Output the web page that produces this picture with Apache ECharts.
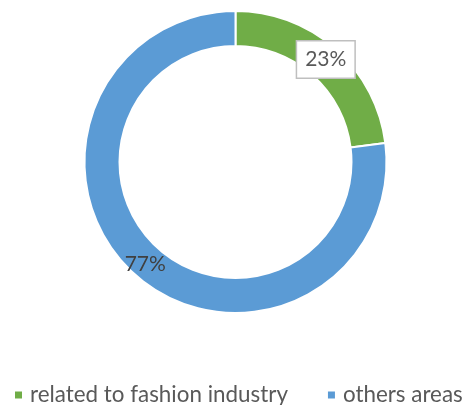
<!DOCTYPE html>
<html>
<head>
<meta charset="utf-8">
<script src="https://cdn.jsdelivr.net/npm/echarts@6/dist/echarts.min.js"></script>
<style>
  html, body { margin: 0; padding: 0; background: #fff; }
  #chart { width: 466px; height: 405px; }
</style>
</head>
<body>
<div id="chart"></div>
<script>
// Share of respondents by area of work
const categories = ['related to fashion industry', 'others areas'];
const shares = [23, 77];
const colors = ['#70AD47', '#5B9BD5'];

const chart = echarts.init(document.getElementById('chart'), null, { renderer: 'canvas' });

chart.setOption({
  animation: false,
  color: colors,
  legend: {
    top: 383,
    left: 13,
    width: 480,
    padding: 0,
    icon: 'rect',
    itemWidth: 9,
    itemHeight: 9,
    itemGap: 38,
    textStyle: { fontFamily: 'Lato', fontSize: 22.4, lineHeight: 24, color: '#595959', padding: [0, 0, 0, 2] },
    data: categories
  },
  series: [{
    type: 'pie',
    center: [235.5, 162],
    radius: [116, 151],
    startAngle: 90,
    clockwise: true,
    itemStyle: { borderColor: '#fff', borderWidth: 2 },
    label: {
      show: true,
      position: 'inside',
      formatter: '{c}%',
      fontFamily: 'Lato',
      fontSize: 21,
      color: '#404040'
    },
    labelLine: { show: false },
    data: categories.map((name, i) => ({
      name,
      value: shares[i],
      label: i === 0 ? {
        backgroundColor: '#fff',
        borderColor: '#BFBFBF',
        borderWidth: 1.5,
        padding: [8, 8, 7, 8],
        color: '#595959'
      } : {}
    }))
  }]
});
</script>
</body>
</html>
